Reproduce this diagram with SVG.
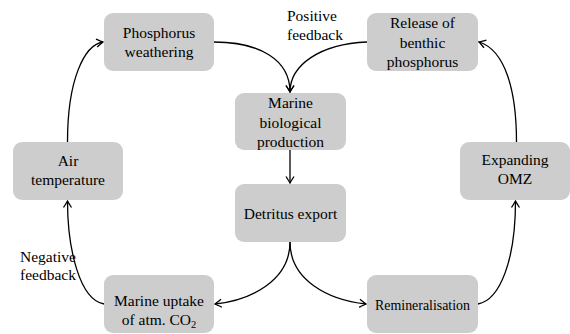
<svg xmlns="http://www.w3.org/2000/svg" width="570" height="334" viewBox="0 0 570 334">
<defs>
<marker id="arr" viewBox="-8 -5 10 10" refX="0" refY="0" markerWidth="10" markerHeight="10" markerUnits="userSpaceOnUse" orient="auto">
<path d="M-6.5,-4 Q-1.5,-0.8 0,0 Q-1.5,0.8 -6.5,4" fill="none" stroke="#000" stroke-width="1.3"/>
</marker>
</defs>
<rect width="570" height="334" fill="#fff"/>
<g id="connectors" fill="none" stroke="#000" stroke-width="1.3">
<path marker-end="url(#arr)" d="M67.5,142 C67.5,80 84,45 103,42"/>
<path marker-end="url(#arr)" d="M214,42 C260,42 290,60 290,92"/>
<path marker-end="url(#arr)" d="M367,42 C320,44 290,65 290,92"/>
<path marker-end="url(#arr)" d="M290,150 L290,183"/>
<path marker-end="url(#arr)" d="M290,242 C290,280 252,300 215,304"/>
<path marker-end="url(#arr)" d="M290,242 C290,280 328,300 366,304"/>
<path marker-end="url(#arr)" d="M104,304 C80,300 67.5,250 67.5,201"/>
<path marker-end="url(#arr)" d="M478,304 C500,300 515.5,260 515.5,201"/>
<path marker-end="url(#arr)" d="M516.5,142 C516.5,90 505,50 479,42"/>
</g>
<g id="phosphorus-weathering">
<rect x="104" y="13" width="110" height="58" rx="9" fill="#cdcdcd"/>
<text x="159" y="38" text-anchor="middle" style="font-family:'Liberation Serif',serif !important;font-size:15.5px">Phosphorus</text>
<text x="159" y="57" text-anchor="middle" style="font-family:'Liberation Serif',serif !important;font-size:15.5px">weathering</text>
</g>
<g id="release-benthic">
<rect x="367" y="13" width="111" height="58" rx="9" fill="#cdcdcd"/>
<text x="422.5" y="28" text-anchor="middle" style="font-family:'Liberation Serif',serif !important;font-size:15.5px">Release of</text>
<text x="422.5" y="48" text-anchor="middle" style="font-family:'Liberation Serif',serif !important;font-size:15.5px">benthic</text>
<text x="422.5" y="67" text-anchor="middle" style="font-family:'Liberation Serif',serif !important;font-size:15.5px">phosphorus</text>
</g>
<g id="marine-bio">
<rect x="235" y="93" width="111" height="57" rx="9" fill="#cdcdcd"/>
<text x="290.5" y="108" text-anchor="middle" style="font-family:'Liberation Serif',serif !important;font-size:15.5px">Marine</text>
<text x="290.5" y="128" text-anchor="middle" style="font-family:'Liberation Serif',serif !important;font-size:15.5px">biological</text>
<text x="290.5" y="147" text-anchor="middle" style="font-family:'Liberation Serif',serif !important;font-size:15.5px">production</text>
</g>
<g id="air-temperature">
<rect x="13" y="142" width="110" height="58" rx="9" fill="#cdcdcd"/>
<text x="68" y="166" text-anchor="middle" style="font-family:'Liberation Serif',serif !important;font-size:15.5px">Air</text>
<text x="68" y="185" text-anchor="middle" style="font-family:'Liberation Serif',serif !important;font-size:15.5px">temperature</text>
</g>
<g id="expanding-omz">
<rect x="460" y="142" width="110" height="58" rx="9" fill="#cdcdcd"/>
<text x="515" y="165" text-anchor="middle" style="font-family:'Liberation Serif',serif !important;font-size:15.5px">Expanding</text>
<text x="515" y="184" text-anchor="middle" style="font-family:'Liberation Serif',serif !important;font-size:15.5px">OMZ</text>
</g>
<g id="detritus-export">
<rect x="235" y="184" width="111" height="58" rx="9" fill="#cdcdcd"/>
<text x="290.5" y="219" text-anchor="middle" style="font-family:'Liberation Serif',serif !important;font-size:15.5px">Detritus export</text>
</g>
<g id="marine-uptake">
<rect x="104" y="275" width="110" height="58" rx="9" fill="#cdcdcd"/>
<text x="159" y="306" text-anchor="middle" style="font-family:'Liberation Serif',serif !important;font-size:15.5px">Marine uptake</text>
<text x="159" y="325" text-anchor="middle" style="font-family:'Liberation Serif',serif !important;font-size:15.5px">of atm. CO<tspan dy="3" style="font-size:10.5px">2</tspan></text>
</g>
<g id="remineralisation">
<rect x="367" y="275" width="111" height="58" rx="9" fill="#cdcdcd"/>
<text x="422.5" y="310" text-anchor="middle" textLength="95" lengthAdjust="spacingAndGlyphs" style="font-family:'Liberation Serif',serif !important;font-size:15.5px">Remineralisation</text>
</g>
<g id="labels">
<text x="287" y="21" style="font-family:'Liberation Serif',serif !important;font-size:15.5px">Positive</text>
<text x="287" y="40" style="font-family:'Liberation Serif',serif !important;font-size:15.5px">feedback</text>
<text x="20" y="262" style="font-family:'Liberation Serif',serif !important;font-size:15.5px">Negative</text>
<text x="20" y="280" style="font-family:'Liberation Serif',serif !important;font-size:15.5px">feedback</text>
</g>
</svg>
